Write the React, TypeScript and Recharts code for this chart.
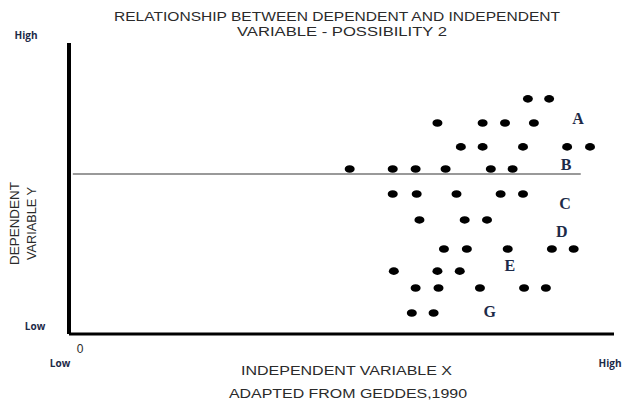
import React from "react";
import { ScatterChart, Scatter, XAxis, YAxis, ReferenceLine } from "recharts";

// Dot positions (x: independent variable 0-100, y: dependent variable 0-100)
const dotsX = [
  84.2, 88.1,
  67.6, 75.9, 80.0, 85.3,
  71.9, 75.9, 83.3, 91.4, 95.6,
  51.5, 59.4, 63.6, 69.1, 77.4, 81.4,
  59.4, 63.8, 71.1, 79.2, 83.3,
  64.3, 72.6, 76.7,
  68.8, 73.0, 80.5, 88.6, 92.6,
  59.6, 67.6, 71.7,
  63.6, 67.8, 75.4, 83.5, 87.5,
  62.9, 66.9,
];
const dotsY = [
  80.8, 80.8,
  72.5, 72.5, 72.5, 72.5,
  64.3, 64.3, 64.3, 64.3, 64.3,
  56.7, 56.7, 56.7, 56.7, 56.7, 56.7,
  48.1, 48.1, 48.1, 48.1, 48.1,
  39.2, 39.2, 39.2,
  29.2, 29.2, 29.2, 29.2, 29.2,
  21.6, 21.6, 21.6,
  15.8, 15.8, 15.8, 15.8, 15.8,
  7.2, 7.2,
];

const groupLabels = ["A", "B", "C", "D", "E", "G"];
const groupLabelX = [93.4, 91.2, 91.0, 90.4, 80.9, 77.2];
const groupLabelY = [73.9, 58.4, 45.0, 35.1, 23.7, 7.6];

const thresholdY = 55.0;
const thresholdXEnd = 93.9;

const titleLines = ["RELATIONSHIP BETWEEN DEPENDENT AND INDEPENDENT", "VARIABLE - POSSIBILITY 2"];
const yTitleLines = ["DEPENDENT", "VARIABLE Y"];
const xTitle = "INDEPENDENT VARIABLE X";
const sourceNote = "ADAPTED FROM GEDDES,1990";

const dots = dotsX.map((x, i) => ({ x, y: dotsY[i] }));
const labels = groupLabels.map((label, i) => ({ x: groupLabelX[i], y: groupLabelY[i], label }));

const navy = "#1c2a48";
const grey = "#2a2a2a";

const Dot = (props: any) => (
  <ellipse cx={props.cx} cy={props.cy} rx={5} ry={3.8} fill="#000" />
);

const Letter = (props: any) => (
  <text
    x={props.cx}
    y={props.cy}
    textAnchor="middle"
    dominantBaseline="central"
    fontFamily="'Liberation Serif', serif"
    fontWeight="bold"
    fontSize={16}
    fill={navy}
  >
    {props.payload.label}
  </text>
);

const stretch = { lengthAdjust: "spacingAndGlyphs" as const };

export default function App() {
  return (
    <div style={{ position: "absolute", left: 0, top: 0, width: 624, height: 407, background: "#fff" }}>
      <ScatterChart width={624} height={407} margin={{ top: 43, right: 10, bottom: 72, left: 68 }}>
        <XAxis
          type="number"
          dataKey="x"
          domain={[0, 100]}
          height={1}
          tick={false}
          tickLine={false}
          axisLine={{ stroke: "#000", strokeWidth: 3 }}
        />
        <YAxis
          type="number"
          dataKey="y"
          domain={[0, 100]}
          width={1}
          tick={false}
          tickLine={false}
          axisLine={{ stroke: "#000", strokeWidth: 4 }}
        />
        <ReferenceLine
          segment={[
            { x: 0.7, y: thresholdY },
            { x: thresholdXEnd, y: thresholdY },
          ]}
          stroke="#777"
          strokeWidth={1.5}
        />
        <Scatter data={dots} shape={Dot} isAnimationActive={false} />
        <Scatter data={labels} shape={Letter} isAnimationActive={false} />
      </ScatterChart>
      <svg
        width={624}
        height={407}
        style={{ position: "absolute", left: 0, top: 0, pointerEvents: "none" }}
      >
        <g fontFamily="'Liberation Sans', Arial, sans-serif" fill={grey} fontSize={12}>
          <text x={114} y={21} textLength={446} {...stretch}>{titleLines[0]}</text>
          <text x={237} y={36} textLength={210} {...stretch}>{titleLines[1]}</text>
          <text transform="translate(19,265) rotate(-90)" textLength={83} {...stretch}>{yTitleLines[0]}</text>
          <text transform="translate(36,260) rotate(-90)" textLength={73} {...stretch}>{yTitleLines[1]}</text>
          <text x={241} y={375} textLength={211} {...stretch}>{xTitle}</text>
          <text x={229} y={398} textLength={238} {...stretch}>{sourceNote}</text>
          <text x={80} y={353} textAnchor="middle">0</text>
        </g>
        <g fontFamily="'Open Sans', sans-serif" fontWeight="bold" fill={navy} fontSize={10} textAnchor="middle">
          <text x={26} y={39}>High</text>
          <text x={35} y={330}>Low</text>
          <text x={60} y={367}>Low</text>
          <text x={610} y={367}>High</text>
        </g>
      </svg>
    </div>
  );
}
